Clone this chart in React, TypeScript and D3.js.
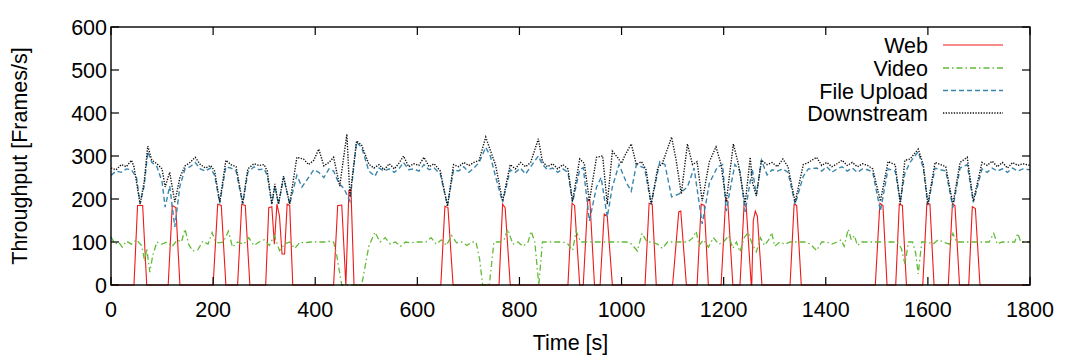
import * as d3 from "d3";
import { useRef, useEffect } from "react";

// time [s], throughput [frames/s]
const webData: [number, number][] = [
  [0, 0], [45, 0], [52, 185], [62, 185], [70, 0],
  [112, 0], [120, 185], [127, 180], [135, 0],
  [200, 0], [209, 188], [216, 185], [225, 0],
  [248, 0], [256, 188], [263, 185], [272, 0],
  [303, 0], [309, 180], [315, 182], [320, 95], [325, 188], [330, 160], [335, 72], [340, 72], [345, 188], [350, 185], [356, 0],
  [436, 0], [444, 185], [452, 186], [460, 0], [466, 220], [470, 222], [476, 0],
  [646, 0], [654, 183], [660, 180], [670, 0],
  [760, 0], [767, 188], [772, 180], [782, 0],
  [895, 0], [903, 190], [908, 185], [918, 0],
  [925, 0], [934, 200], [938, 195], [947, 0],
  [958, 0], [966, 165], [972, 160], [982, 0],
  [1046, 0], [1054, 190], [1060, 188], [1068, 0],
  [1100, 0], [1112, 170], [1116, 172], [1127, 0],
  [1148, 0], [1156, 188], [1162, 185], [1170, 0],
  [1195, 0], [1204, 200], [1208, 195], [1218, 0],
  [1232, 0], [1240, 188], [1244, 185], [1254, 0],
  [1255, 0], [1258, 150], [1262, 172], [1266, 160], [1275, 0],
  [1330, 0], [1338, 188], [1343, 185], [1352, 0],
  [1497, 0], [1506, 190], [1512, 185], [1520, 0],
  [1537, 0], [1544, 188], [1550, 185], [1558, 0],
  [1590, 0], [1598, 190], [1604, 188], [1612, 0],
  [1640, 0], [1648, 188], [1653, 185], [1662, 0],
  [1680, 0], [1687, 182], [1693, 178], [1702, 0],
  [1800, 0],
];

const videoData: [number, number][] = [
  [0, 112], [8, 95], [15, 100], [22, 88], [30, 102], [40, 95], [50, 105], [60, 92], [66, 55], [70, 85],
  [76, 30], [82, 70], [90, 100], [100, 95], [110, 100], [120, 90], [130, 105], [138, 100], [145, 130],
  [152, 95], [160, 79], [170, 82], [180, 102], [190, 95], [198, 122], [205, 100], [212, 98], [220, 100],
  [230, 125], [238, 88], [248, 100], [260, 95], [270, 110], [280, 92], [290, 100], [300, 105],
  [310, 92], [320, 115], [330, 80], [340, 95], [350, 100], [360, 85], [370, 100], [380, 98],
  [390, 100], [400, 100], [410, 100], [420, 100], [430, 102], [436, 100], [442, 70], [452, 0],
  [491, 0], [505, 90], [517, 123], [527, 100], [537, 110], [547, 95], [557, 100], [567, 90],
  [577, 100], [587, 98], [597, 100], [607, 100], [617, 100], [627, 110], [637, 95], [647, 105],
  [657, 92], [667, 115], [677, 98], [687, 100], [697, 92], [707, 100], [715, 100], [722, 60],
  [728, 0], [741, 0], [750, 100], [760, 100], [770, 105], [777, 130], [787, 95], [797, 100],
  [807, 90], [817, 100], [823, 125], [830, 100], [838, 0], [845, 100], [855, 100], [865, 100],
  [875, 100], [885, 100], [895, 95], [904, 80], [911, 125], [920, 100], [930, 100], [940, 100],
  [950, 100], [960, 100], [970, 100], [980, 100], [990, 100], [1000, 100], [1010, 100], [1020, 95],
  [1031, 79], [1040, 120], [1050, 100], [1060, 100], [1070, 95], [1080, 85], [1090, 100], [1100, 100],
  [1110, 100], [1120, 100], [1130, 100], [1140, 110], [1146, 125], [1152, 92], [1160, 105], [1170, 88],
  [1180, 110], [1190, 95], [1200, 100], [1210, 115], [1218, 85], [1225, 100], [1232, 77], [1240, 110],
  [1248, 122], [1256, 95], [1264, 77], [1272, 110], [1280, 92], [1288, 105], [1294, 122], [1300, 90],
  [1310, 100], [1320, 95], [1330, 100], [1340, 100], [1350, 100], [1360, 100], [1370, 95], [1382, 80],
  [1392, 100], [1402, 100], [1412, 95], [1422, 100], [1430, 105], [1436, 90], [1444, 130], [1450, 105],
  [1456, 115], [1462, 92], [1470, 100], [1480, 100], [1490, 100], [1500, 100], [1510, 100], [1520, 100],
  [1530, 100], [1540, 100], [1548, 85], [1555, 49], [1562, 100], [1570, 100], [1576, 75], [1581, 26],
  [1588, 100], [1600, 100], [1610, 95], [1620, 105], [1630, 100], [1642, 95], [1649, 120], [1656, 100],
  [1670, 100], [1680, 100], [1690, 100], [1700, 100], [1710, 100], [1720, 100], [1729, 120], [1736, 95],
  [1745, 100], [1760, 100], [1770, 100], [1776, 120], [1782, 100], [1800, 100],
];

const uploadData: [number, number][] = [
  [0, 255], [10, 265], [20, 262], [30, 270], [40, 268], [50, 250], [57, 190], [65, 230], [72, 310],
  [80, 285], [90, 275], [100, 240], [106, 181], [115, 230], [125, 135], [135, 230], [145, 270],
  [155, 275], [165, 285], [175, 270], [185, 265], [195, 272], [203, 255], [213, 190], [225, 275],
  [235, 272], [245, 265], [258, 188], [268, 262], [280, 275], [290, 268], [300, 270], [306, 255],
  [315, 188], [321, 230], [328, 188], [338, 250], [350, 188], [364, 255], [374, 228], [387, 250],
  [397, 268], [407, 262], [417, 250], [427, 270], [436, 265], [446, 237], [456, 225], [468, 195],
  [481, 332], [491, 320], [505, 265], [517, 253], [525, 272], [535, 265], [545, 270], [555, 262],
  [565, 272], [573, 285], [583, 268], [593, 270], [603, 265], [613, 280], [623, 268], [633, 272],
  [645, 258], [659, 185], [671, 268], [681, 265], [691, 275], [701, 262], [711, 272], [721, 285],
  [734, 320], [743, 300], [753, 253], [767, 192], [782, 268], [792, 262], [802, 272], [812, 258],
  [822, 275], [837, 300], [845, 280], [855, 268], [865, 272], [875, 262], [885, 270], [895, 262],
  [904, 192], [918, 268], [925, 273], [937, 149], [951, 228], [960, 250], [972, 158], [982, 228],
  [995, 280], [1010, 237], [1019, 218], [1029, 280], [1045, 272], [1058, 188], [1075, 287], [1085, 280],
  [1098, 205], [1113, 212], [1129, 228], [1142, 272], [1158, 142], [1172, 237], [1188, 275], [1198, 280],
  [1205, 172], [1212, 218], [1222, 280], [1232, 265], [1242, 170], [1247, 205], [1256, 270], [1264, 210],
  [1274, 290], [1285, 256], [1295, 268], [1305, 265], [1316, 270], [1326, 262], [1340, 188], [1356, 253],
  [1366, 270], [1382, 272], [1392, 265], [1402, 275], [1412, 262], [1422, 270], [1432, 275], [1442, 265],
  [1452, 272], [1462, 262], [1472, 270], [1482, 268], [1492, 262], [1507, 172], [1522, 270], [1536, 265],
  [1546, 195], [1555, 260], [1565, 285], [1581, 310], [1591, 272], [1600, 185], [1614, 272], [1625, 268],
  [1635, 265], [1649, 180], [1663, 272], [1677, 280], [1689, 192], [1706, 270], [1716, 262], [1726, 272],
  [1736, 265], [1746, 270], [1756, 262], [1766, 272], [1776, 265], [1786, 270], [1800, 268],
];

const downstreamData: [number, number][] = [
  [0, 272], [10, 268], [20, 280], [30, 275], [40, 290], [45, 275], [57, 188], [65, 240], [72, 323],
  [80, 290], [90, 282], [100, 270], [106, 228], [115, 262], [125, 193], [135, 250], [145, 277],
  [155, 285], [165, 297], [175, 280], [185, 272], [195, 278], [203, 265], [213, 193], [225, 290],
  [235, 280], [245, 275], [258, 190], [268, 270], [280, 282], [290, 278], [300, 280], [306, 265],
  [315, 188], [321, 235], [328, 188], [338, 253], [350, 188], [364, 297], [377, 293], [387, 280],
  [397, 290], [407, 316], [417, 277], [427, 285], [436, 297], [448, 230], [462, 351], [468, 205],
  [481, 335], [491, 325], [505, 281], [515, 272], [525, 280], [535, 268], [545, 282], [555, 270],
  [565, 285], [573, 300], [583, 275], [593, 282], [603, 278], [613, 297], [623, 275], [633, 282],
  [645, 265], [659, 183], [671, 280], [681, 275], [691, 285], [701, 278], [711, 285], [721, 290],
  [734, 344], [743, 313], [753, 280], [767, 195], [782, 280], [792, 270], [802, 285], [812, 275],
  [822, 285], [837, 340], [845, 287], [855, 275], [865, 282], [875, 270], [885, 280], [895, 270],
  [904, 195], [918, 293], [927, 283], [937, 195], [951, 297], [963, 300], [972, 188], [982, 311],
  [992, 297], [1000, 283], [1006, 300], [1019, 328], [1029, 280], [1039, 287], [1048, 268], [1058, 188],
  [1071, 273], [1080, 283], [1098, 344], [1107, 290], [1117, 212], [1129, 328], [1139, 280], [1148, 287],
  [1158, 195], [1172, 287], [1185, 321], [1195, 280], [1205, 193], [1219, 328], [1229, 280], [1242, 188],
  [1252, 297], [1256, 240], [1264, 207], [1274, 290], [1285, 280], [1295, 285], [1305, 275], [1316, 293],
  [1326, 275], [1340, 193], [1356, 280], [1366, 285], [1382, 297], [1392, 278], [1402, 285], [1412, 275],
  [1422, 282], [1432, 290], [1442, 278], [1452, 285], [1462, 275], [1472, 282], [1482, 278], [1492, 270],
  [1507, 195], [1522, 287], [1536, 280], [1546, 188], [1555, 290], [1565, 293], [1581, 316], [1591, 280],
  [1600, 188], [1614, 285], [1625, 280], [1635, 275], [1649, 188], [1663, 285], [1677, 297], [1689, 195],
  [1706, 285], [1716, 278], [1726, 288], [1736, 275], [1746, 285], [1756, 272], [1766, 285], [1776, 278],
  [1786, 282], [1800, 278],
];

const seriesNames = ["Web", "Video", "File Upload", "Downstream"];
const xTicks = [0, 200, 400, 600, 800, 1000, 1200, 1400, 1600, 1800];
const yTicks = [0, 100, 200, 300, 400, 500, 600];

const W = 1071;
const H = 357;
const FONT = "'Liberation Sans', Arial, sans-serif";

const App = () => {
  const svgRef = useRef<SVGSVGElement>(null);

  useEffect(() => {
    const svg = d3.select(svgRef.current);
    svg.selectAll("*").remove();

    const left = 111, right = 1030, top = 27, bottom = 285;
    const x = d3.scaleLinear().domain([0, 1800]).range([left, right]);
    const y = d3.scaleLinear().domain([0, 600]).range([bottom, top]);

    const styles = [
      { data: webData, color: "#f01818", dash: null, width: 1.1 },
      { data: videoData, color: "#62bb36", dash: "6,3,1.5,3", width: 1.3 },
      { data: uploadData, color: "#3a86ae", dash: "5,3", width: 1.4 },
      { data: downstreamData, color: "#111", dash: "1.3,1.4", width: 1.4 },
    ];

    const line = d3.line<[number, number]>()
      .x(d => x(d[0]))
      .y(d => y(d[1]));

    const plot = svg.append("g");
    styles.forEach(s => {
      plot.append("path")
        .datum(s.data)
        .attr("fill", "none")
        .attr("stroke", s.color)
        .attr("stroke-width", s.width)
        .attr("stroke-dasharray", s.dash)
        .attr("d", line);
    });

    // frame
    svg.append("rect")
      .attr("x", left).attr("y", top)
      .attr("width", right - left).attr("height", bottom - top)
      .attr("fill", "none").attr("stroke", "#000").attr("stroke-width", 1.4);

    // mirrored inward ticks, gnuplot style
    const tickLen = 8;
    const ticks = svg.append("g").attr("stroke", "#000").attr("stroke-width", 1.2);
    xTicks.forEach(t => {
      ticks.append("line").attr("x1", x(t)).attr("x2", x(t)).attr("y1", bottom).attr("y2", bottom - tickLen);
      ticks.append("line").attr("x1", x(t)).attr("x2", x(t)).attr("y1", top).attr("y2", top + tickLen);
    });
    yTicks.forEach(t => {
      ticks.append("line").attr("x1", left).attr("x2", left + tickLen).attr("y1", y(t)).attr("y2", y(t));
      ticks.append("line").attr("x1", right).attr("x2", right - tickLen).attr("y1", y(t)).attr("y2", y(t));
    });

    const labels = svg.append("g").attr("font-family", FONT).attr("font-size", 21.5).attr("fill", "#000");
    xTicks.forEach(t => {
      labels.append("text")
        .attr("x", x(t)).attr("y", 317)
        .attr("text-anchor", "middle")
        .text(t);
    });
    yTicks.forEach(t => {
      labels.append("text")
        .attr("x", left - 4).attr("y", y(t) + 8)
        .attr("text-anchor", "end")
        .text(t);
    });

    labels.append("text")
      .attr("x", (left + right) / 2).attr("y", 350)
      .attr("text-anchor", "middle")
      .text("Time [s]");

    labels.append("text")
      .attr("transform", `translate(27, ${(top + bottom) / 2}) rotate(-90)`)
      .attr("text-anchor", "middle")
      .text("Throughput [Frames/s]");

    // legend
    const legendY = [45, 68, 90.5, 113];
    styles.forEach((s, i) => {
      labels.append("text")
        .attr("x", 928).attr("y", legendY[i] + 8)
        .attr("text-anchor", "end")
        .text(seriesNames[i]);
      svg.append("line")
        .attr("x1", 943).attr("x2", 1003)
        .attr("y1", legendY[i]).attr("y2", legendY[i])
        .attr("stroke", s.color)
        .attr("stroke-width", s.width)
        .attr("stroke-dasharray", s.dash);
    });
  }, []);

  return (
    <div style={{ position: "absolute", left: 0, top: 0, width: W, height: H, background: "#fff" }}>
      <svg ref={svgRef} width={W} height={H} />
    </div>
  );
};

export default App;
